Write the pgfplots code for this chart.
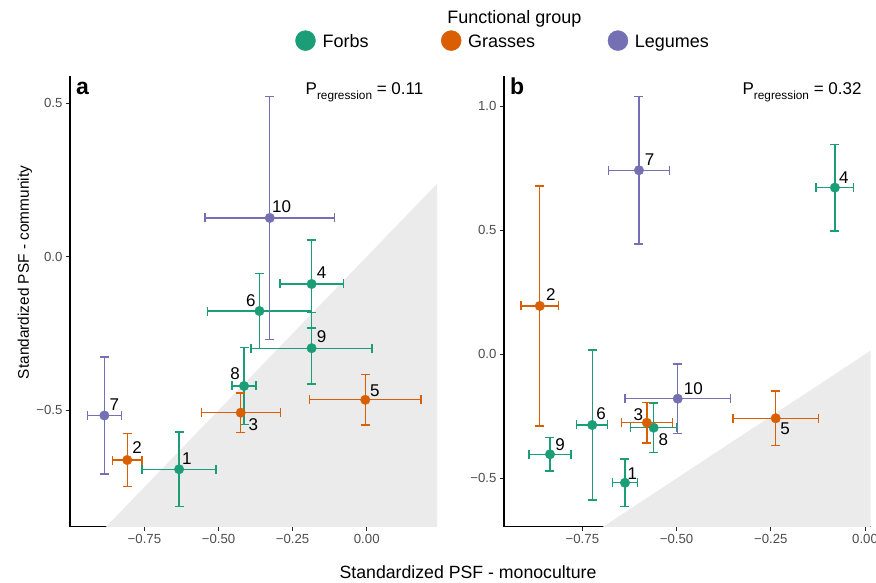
\documentclass[border=0pt]{standalone}
\usepackage{fontspec}
\setmainfont{Liberation Sans}
\usepackage{pgfplots}
\usepackage{pgfplotstable}
\pgfplotsset{compat=1.18}
\definecolor{forb}{HTML}{1B9E77}
\definecolor{grass}{HTML}{D95F02}
\definecolor{legume}{HTML}{7570B3}
\definecolor{shade}{HTML}{EBEBEB}
\definecolor{tickgray}{HTML}{4D4D4D}

% panel a
\pgfplotstableread{
x y ex ey
-0.633 -0.692 0.125 0.121
-0.186 -0.089 0.107 0.143
-0.362 -0.177 0.176 0.123
-0.414 -0.421 0.041 0.126
-0.186 -0.298 0.204 0.117
}\aForb
\pgfplotstableread{
x y ex ey
-0.808 -0.662 0.050 0.086
-0.425 -0.508 0.133 0.064
-0.005 -0.466 0.188 0.082
}\aGrass
\pgfplotstableread{
x y ex ey
-0.885 -0.517 0.057 0.190
-0.327 0.126 0.219 0.395
}\aLeg
% panel b
\pgfplotstableread{
x y ex ey
-0.637 -0.518 0.033 0.096
-0.080 0.672 0.050 0.175
-0.724 -0.285 0.041 0.303
-0.561 -0.296 0.061 0.099
-0.836 -0.403 0.056 0.068
}\bForb
\pgfplotstableread{
x y ex ey
-0.863 0.195 0.050 0.484
-0.579 -0.276 0.068 0.081
-0.237 -0.258 0.113 0.110
}\bGrass
\pgfplotstableread{
x y ex ey
-0.600 0.742 0.081 0.297
-0.497 -0.179 0.140 0.140
}\bLeg

\tikzset{lab/.style={font=\fontsize{17}{19}\selectfont, text=black, inner sep=0pt}}
\pgfplotsset{
  psf/.style={
    scale only axis, width=367pt, height=450.7pt,
    anchor=south west,
    axis x line*=bottom, axis y line*=left,
    axis line style={line width=1.1pt, black},
    tick align=outside, major tick length=4pt,
    tick style={line width=0.8pt, color=black!85},
    ticklabel style={font=\fontsize{13.2}{15}\selectfont, color=tickgray},
    xtick={-0.75,-0.5,-0.25,0},
    xticklabels={−0.75,−0.50,−0.25,0.00},
    clip=true,
  },
  grp/.style={
    only marks, mark=*, mark size=4.8pt, color=#1, forget plot,
    mark options={fill=#1, draw=#1, line width=0.3pt},
    error bars/.cd, x dir=both, y dir=both, x explicit, y explicit,
    error bar style={line width=1.35pt, color=#1},
    error mark options={rotate=90, mark size=4.5pt, line width=1.35pt, color=#1},
  },
}

\begin{document}
\begin{tikzpicture}
\useasboundingbox (0,0) rectangle (876pt,583pt);

% ---------- panel a ----------
\begin{axis}[psf, at={(70pt,56.3pt)},
  xmin=-1.001, xmax=0.237, ymin=-0.879, ymax=0.588,
  ytick={-0.5,0,0.5}, yticklabels={−0.5,0.0,0.5},
  legend columns=3,
  legend style={draw=none, fill=none, inner sep=0pt, outer sep=0pt,
    at={(0.6139,1.0785)}, anchor=west,
    font=\fontsize{18}{20}\selectfont,
    nodes={inner sep=0pt},
    /tikz/every odd column/.append style={column sep=6.8pt},
    /tikz/every even column/.append style={column sep=72.5pt}},
]
\addlegendimage{legend image code/.code={\fill[forb] (10pt,1pt) circle (10pt);}}
\addlegendentry{Forbs}
\addlegendimage{legend image code/.code={\fill[grass] (10pt,1pt) circle (10pt);}}
\addlegendentry{Grasses}
\addlegendimage{legend image code/.code={\fill[legume] (10pt,1pt) circle (10pt);}}
\addlegendentry{Legumes}
\addplot[fill=shade, draw=none, forget plot] coordinates {(-2,-2) (2,2) (2,-2)} -- cycle;
\addplot[grp=forb] table[x=x, y=y, x error=ex, y error=ey] {\aForb};
\addplot[grp=grass] table[x=x, y=y, x error=ex, y error=ey] {\aGrass};
\addplot[grp=legume] table[x=x, y=y, x error=ex, y error=ey] {\aLeg};
\node[lab, xshift=7.7pt, yshift=11pt] at (axis cs:-0.633,-0.692) {1};
\node[lab, xshift=10pt, yshift=11.3pt] at (axis cs:-0.186,-0.089) {4};
\node[lab, xshift=-8.6pt, yshift=10pt] at (axis cs:-0.362,-0.177) {6};
\node[lab, xshift=-9pt, yshift=12pt] at (axis cs:-0.414,-0.421) {8};
\node[lab, xshift=10pt, yshift=11.6pt] at (axis cs:-0.186,-0.298) {9};
\node[lab, xshift=10pt, yshift=12.7pt] at (axis cs:-0.808,-0.662) {2};
\node[lab, xshift=12.6pt, yshift=-12.3pt] at (axis cs:-0.425,-0.508) {3};
\node[lab, xshift=9.7pt, yshift=9.3pt] at (axis cs:-0.005,-0.466) {5};
\node[lab, xshift=10pt, yshift=10.7pt] at (axis cs:-0.885,-0.517) {7};
\node[lab, xshift=11.7pt, yshift=11.6pt] at (axis cs:-0.327,0.126) {10};
\end{axis}

% ---------- panel b ----------
\begin{axis}[psf, at={(504pt,56.3pt)}, width=366.7pt,
  xmin=-0.958, xmax=0.015, ymin=-0.695, ymax=1.122,
  ytick={-0.5,0,0.5,1}, yticklabels={−0.5,0.0,0.5,1.0},
]
\addplot[fill=shade, draw=none, forget plot] coordinates {(-2,-2) (2,2) (2,-2)} -- cycle;
\addplot[grp=forb] table[x=x, y=y, x error=ex, y error=ey] {\bForb};
\addplot[grp=grass] table[x=x, y=y, x error=ex, y error=ey] {\bGrass};
\addplot[grp=legume] table[x=x, y=y, x error=ex, y error=ey] {\bLeg};
\node[lab, xshift=7.3pt, yshift=9.4pt] at (axis cs:-0.637,-0.518) {1};
\node[lab, xshift=9pt, yshift=10.4pt] at (axis cs:-0.080,0.672) {4};
\node[lab, xshift=9pt, yshift=11.7pt] at (axis cs:-0.724,-0.285) {6};
\node[lab, xshift=9.6pt, yshift=-11.6pt] at (axis cs:-0.561,-0.296) {8};
\node[lab, xshift=10pt, yshift=9.3pt] at (axis cs:-0.836,-0.403) {9};
\node[lab, xshift=11pt, yshift=11pt] at (axis cs:-0.863,0.195) {2};
\node[lab, xshift=-8.4pt, yshift=7.7pt] at (axis cs:-0.579,-0.276) {3};
\node[lab, xshift=9.3pt, yshift=-10.7pt] at (axis cs:-0.237,-0.258) {5};
\node[lab, xshift=10.6pt, yshift=10.7pt] at (axis cs:-0.600,0.742) {7};
\node[lab, xshift=15.6pt, yshift=10.4pt] at (axis cs:-0.497,-0.179) {10};
\end{axis}

% ---------- texts ----------
\node[anchor=base, inner sep=0pt, font=\fontsize{18}{20}\selectfont] at (514.5pt,559.7pt) {Functional group};
\node[anchor=base west, inner sep=0pt, font=\bfseries\fontsize{23}{25}\selectfont] at (76pt,488.5pt) {a};
\node[anchor=base west, inner sep=0pt, font=\bfseries\fontsize{23}{25}\selectfont] at (510pt,488.5pt) {b};
\node[anchor=base east, inner sep=0pt, font=\fontsize{17}{19}\selectfont] at (423.5pt,488pt) {P\raisebox{-5pt}{\fontsize{11.8}{13}\selectfont regression} = 0.11};
\node[anchor=base east, inner sep=0pt, font=\fontsize{17}{19}\selectfont] at (861.7pt,488pt) {P\raisebox{-5pt}{\fontsize{11.8}{13}\selectfont regression} = 0.32};
\node[anchor=base, inner sep=0pt, font=\fontsize{17.7}{20}\selectfont] at (468pt,4.7pt) {Standardized PSF - monoculture};
\node[rotate=90, inner sep=0pt, font=\fontsize{15.4}{18}\selectfont] at (25pt,310.5pt) {Standardized PSF - community};
\end{tikzpicture}
\end{document}
